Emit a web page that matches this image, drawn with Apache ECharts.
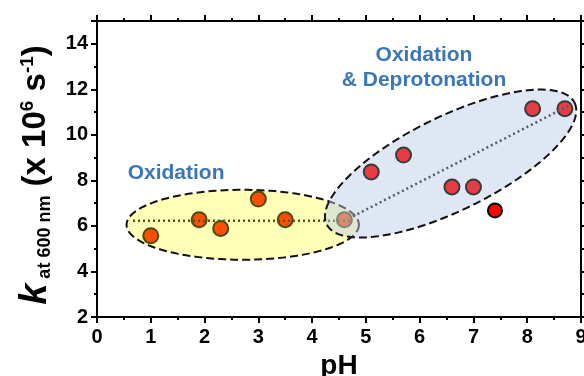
<!DOCTYPE html>
<html><head><meta charset="utf-8">
<script src="https://cdn.jsdelivr.net/npm/echarts@6/dist/echarts.min.js"></script>
<style>html,body{margin:0;padding:0;background:#fff}#c{width:584px;height:376px}</style>
</head><body><div id="c"></div>
<script>
// ---- data ----
const oxidationPH = [1.0, 1.9, 2.3, 3.0, 3.5, 4.6];
const oxidationK  = [5.57, 6.27, 5.89, 7.18, 6.27, 6.27];
const deprotPH    = [5.1, 5.7, 6.6, 7.0, 8.1, 8.7];
const deprotK     = [8.37, 9.11, 7.71, 7.71, 11.15, 11.15];
const outlierPH   = [7.4];
const outlierK    = [6.68];
// ellipse regions: major-axis endpoints [x1, y1, x2, y2]
const yellowRegion = [0.55, 6.05, 4.87, 6.05];
const blueRegion   = [4.27, 6.07, 8.88, 11.41];
// dotted guide lines
const yellowTrendX = [0.67, 4.75];
const yellowTrendY = [6.23, 6.23];
const blueTrendX   = [4.76, 8.82];
const blueTrendY   = [6.42, 11.34];
// annotations
const annoText = ['Oxidation', 'Oxidation\n& Deprotonation'];
const annoX = [1.47, 6.08];
const annoY = [8.32, 12.93];
const xTickLabels = ['0','1','2','3','4','5','6','7','8','9'];

// ---- build ----
const zip = (a, b) => a.map((v, i) => [v, b[i]]);
const FONT = 'Liberation Sans, Arial, sans-serif';

function ellipseItem(halfMinor, fill) {
  return function (params, api) {
    const p1 = api.coord([api.value(0), api.value(1)]);
    const p2 = api.coord([api.value(2), api.value(3)]);
    const cx = (p1[0] + p2[0]) / 2, cy = (p1[1] + p2[1]) / 2;
    const dx = p2[0] - p1[0], dy = p2[1] - p1[1];
    const a = Math.hypot(dx, dy) / 2;
    const ang = Math.atan2(dy, dx);
    const ca = Math.cos(ang), sa = Math.sin(ang);
    const pts = [];
    for (let i = 0; i < 160; i++) {
      const t = i / 160 * Math.PI * 2;
      const ex = a * Math.cos(t), ey = halfMinor * Math.sin(t);
      pts.push([cx + ex * ca - ey * sa, cy + ex * sa + ey * ca]);
    }
    return {
      type: 'polygon',
      shape: { points: pts },
      style: { fill: fill, stroke: '#111', lineWidth: 2, lineDash: [8, 4] }
    };
  };
}

const axisCommon = {
  type: 'value',
  axisLine: { show: true, onZero: false, lineStyle: { color: '#000', width: 2 } },
  axisTick: { show: true, inside: false, length: 6, lineStyle: { color: '#000', width: 2 } },
  minorTick: { show: true, splitNumber: 2, length: 3, lineStyle: { color: '#000', width: 2 } },
  splitLine: { show: false },
  minorSplitLine: { show: false }
};

const option = {
  animation: false,
  backgroundColor: '#fff',
  grid: { left: 97, right: 3, top: 21, bottom: 59, containLabel: false, outerBoundsMode: 'none' },
  xAxis: [
    Object.assign({}, axisCommon, {
      min: 0, max: 9, interval: 1, position: 'bottom',
      axisLabel: { show: true, margin: 10, color: '#000', fontSize: 20, fontWeight: 'bold', fontFamily: FONT,
        showMinLabel: true, showMaxLabel: true, hideOverlap: false,
        formatter: v => xTickLabels[Math.round(v)] || '' },
      name: 'pH', nameLocation: 'middle', nameGap: 32,
      nameTextStyle: { color: '#000', fontSize: 28, fontWeight: 'bold', fontFamily: FONT }
    }),
    Object.assign({}, axisCommon, {
      min: 0, max: 9, interval: 1, position: 'top', axisLabel: { show: false }
    })
  ],
  yAxis: [
    Object.assign({}, axisCommon, {
      min: 2, max: 15, interval: 2, position: 'left',
      axisLabel: { show: true, margin: 9, color: '#000', fontSize: 20, fontWeight: 'bold', fontFamily: FONT,
        showMaxLabel: false },
      name: '{k|k}{sub| at 600 nm}{b| (x 10}{sup|6}{b| s}{sup|-1}{b|)}',
      nameLocation: 'middle', nameGap: 39,
      nameTextStyle: {
        color: '#000', fontFamily: FONT, padding: [0, 12, 0, 0],
        rich: {
          k:   { fontSize: 38, fontStyle: 'italic', fontWeight: 'bold', fontFamily: FONT, color: '#000', lineHeight: 36, verticalAlign: 'middle' },
          sub: { fontSize: 18, fontWeight: 'bold', fontFamily: FONT, color: '#000', lineHeight: 22, verticalAlign: 'bottom' },
          b:   { fontSize: 33, fontWeight: 'bold', fontFamily: FONT, color: '#000', lineHeight: 36, verticalAlign: 'middle' },
          sup: { fontSize: 19, fontWeight: 'bold', fontFamily: FONT, color: '#000', lineHeight: 22, verticalAlign: 'top' }
        }
      }
    }),
    Object.assign({}, axisCommon, {
      min: 2, max: 15, interval: 2, position: 'right', axisLabel: { show: false }
    })
  ],
  series: [
    { type: 'custom', name: 'yellowRegion', z: 1, silent: true,
      renderItem: ellipseItem(35, '#ffffb8'),
      data: [yellowRegion], encode: { x: [0, 2], y: [1, 3] } },
    { type: 'scatter', name: 'Oxidation', z: 2, symbolSize: 15,
      itemStyle: { color: '#ff4e00', borderColor: '#4a4a0c', borderWidth: 2, opacity: 1 },
      data: zip(oxidationPH, oxidationK) },
    { type: 'line', name: 'yellowTrend', z: 3, symbol: 'none', silent: true,
      lineStyle: { color: '#55550f', width: 2.5, type: [2, 3] },
      data: zip(yellowTrendX, yellowTrendY) },
    { type: 'custom', name: 'blueRegion', z: 4, silent: true,
      renderItem: ellipseItem(47, 'rgba(188,203,232,0.48)'),
      data: [blueRegion], encode: { x: [0, 2], y: [1, 3] } },
    { type: 'scatter', name: 'Deprotonation', z: 5, symbolSize: 15,
      itemStyle: { color: '#e63d45', borderColor: '#3a3a3a', borderWidth: 2, opacity: 1 },
      data: zip(deprotPH, deprotK) },
    { type: 'scatter', name: 'Outlier', z: 5, symbolSize: 14,
      itemStyle: { color: '#ff0000', borderColor: '#000', borderWidth: 2, opacity: 1 },
      data: zip(outlierPH, outlierK) },
    { type: 'line', name: 'blueTrend', z: 6, symbol: 'none', silent: true,
      lineStyle: { color: '#555a66', width: 2.5, type: [2, 3] },
      data: zip(blueTrendX, blueTrendY) },
    { type: 'custom', name: 'annotations', z: 7, silent: true,
      renderItem: function (params, api) {
        const p = api.coord([api.value(0), api.value(1)]);
        return { type: 'text', x: p[0], y: p[1],
          style: { text: annoText[params.dataIndex], fill: '#3a76b8', fontSize: 21, fontWeight: 'bold',
            fontFamily: FONT, align: 'center', verticalAlign: 'middle', lineHeight: 25 } };
      },
      data: zip(annoX, annoY) }
  ]
};
const chart = echarts.init(document.getElementById('c'), null, { renderer: 'canvas' });
chart.setOption(option);
</script>
</body></html>
